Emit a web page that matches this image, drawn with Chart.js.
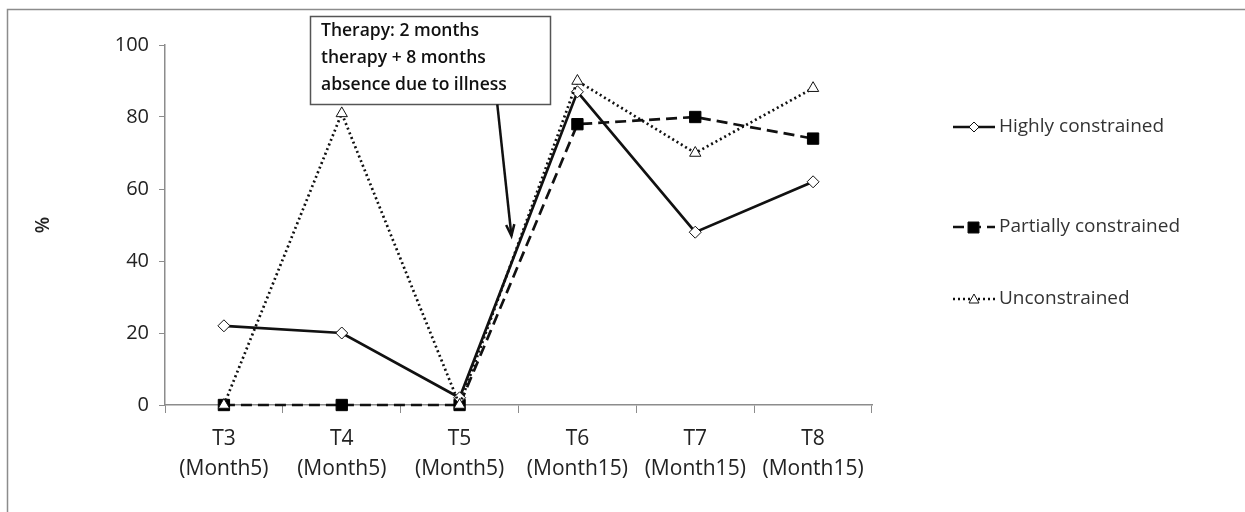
<!DOCTYPE html>
<html>
<head>
<meta charset="utf-8">
<script src="https://cdn.jsdelivr.net/npm/chart.js@4"></script>
<style>
  body { margin: 0; background: #fff; }
  #wrap { width: 1245px; height: 512px; }
</style>
</head>
<body>
<div id="wrap"><canvas id="myChart" width="1245" height="512"></canvas></div>
<script>
const categories = [
    ['T3', '(Month5)'], ['T4', '(Month5)'], ['T5', '(Month5)'],
    ['T6', '(Month15)'], ['T7', '(Month15)'], ['T8', '(Month15)']
];
const highly = [22, 20, 2, 87, 48, 62];
const partially = [0, 0, 0, 78, 80, 74];
const unconstrained = [0, 81, 0, 90, 70, 88];
const yTicks = [0, 20, 40, 60, 80, 100];
const noteLines = ['Therapy: 2 months', 'therapy + 8 months', 'absence due to illness'];

const FONT = 'Open Sans';
const GREY = '#8c8c8c';

// frame, note box with arrow and the right hand legend
const extras = {
    id: 'extras',
    afterDraw(chart) {
        const c = chart.ctx;
        const x = chart.scales.x, y = chart.scales.y;
        c.save();

        // outer frame (only top and left visible in the crop)
        c.strokeStyle = GREY;
        c.lineWidth = 1.5;
        c.beginPath();
        c.moveTo(1245, 9.5);
        c.lineTo(7.5, 9.5);
        c.lineTo(7.5, 512);
        c.stroke();

        // note box
        c.fillStyle = '#fff';
        c.fillRect(310, 16, 240, 88);
        c.strokeStyle = '#555';
        c.lineWidth = 1.5;
        c.strokeRect(310.5, 16.5, 240, 88);
        c.fillStyle = '#111';
        c.font = '600 17.5px ' + FONT;
        c.textBaseline = 'middle';
        c.textAlign = 'left';
        noteLines.forEach((t, i) => c.fillText(t, 321, 31 + i * 27));

        // arrow pointing at the gap between T5 and T6
        const x0 = x.getPixelForValue(2.32), y0 = y.getPixelForValue(83.5);
        const x1 = x.getPixelForValue(2.44), y1 = y.getPixelForValue(47);
        const ang = Math.atan2(y1 - y0, x1 - x0);
        c.strokeStyle = '#111';
        c.lineWidth = 2.5;
        c.beginPath();
        c.moveTo(x0, y0);
        c.lineTo(x1, y1);
        c.stroke();
        c.beginPath();
        c.moveTo(x1 - 12 * Math.cos(ang - 0.35), y1 - 12 * Math.sin(ang - 0.35));
        c.lineTo(x1, y1);
        c.lineTo(x1 - 12 * Math.cos(ang + 0.35), y1 - 12 * Math.sin(ang + 0.35));
        c.stroke();

        // legend
        const rows = [127, 227, 299];
        chart.data.datasets.forEach((ds, i) => {
            const ly = rows[i];
            c.strokeStyle = '#111';
            c.lineWidth = 2.5;
            c.setLineDash(ds.borderDash || []);
            c.beginPath();
            c.moveTo(953, ly);
            c.lineTo(995, ly);
            c.stroke();
            c.setLineDash([]);
            c.lineWidth = 1;
            c.fillStyle = ds.pointBackgroundColor;
            c.strokeStyle = '#111';
            c.beginPath();
            if (ds.pointStyle === 'rectRot') {
                c.moveTo(974, ly - 5); c.lineTo(979, ly); c.lineTo(974, ly + 5); c.lineTo(969, ly);
            } else if (ds.pointStyle === 'rect') {
                c.rect(968, ly - 5, 11, 11);
            } else {
                c.moveTo(974, ly - 5); c.lineTo(979, ly + 4); c.lineTo(969, ly + 4);
            }
            c.closePath();
            c.fill();
            c.stroke();
            c.fillStyle = '#333';
            c.font = '19px ' + FONT;
            c.textBaseline = 'middle';
            c.fillText(ds.label, 999, ly);
        });
        c.restore();
    }
};

const ctx = document.getElementById('myChart').getContext('2d');
const myChart = new Chart(ctx, {
    type: 'line',
    data: {
        labels: categories,
        datasets: [{
            label: 'Highly constrained',
            data: highly,
            order: 2,
            borderColor: '#111',
            borderWidth: 2.7,
            clip: false,
            pointStyle: 'rectRot',
            pointRadius: 6,
            pointBorderWidth: 1,
            pointBackgroundColor: '#fff',
            pointBorderColor: '#111'
        }, {
            label: 'Partially constrained',
            data: partially,
            order: 3,
            borderColor: '#111',
            borderWidth: 2.7,
            borderDash: [11, 6],
            clip: false,
            pointStyle: 'rect',
            pointRadius: 8,
            pointBorderWidth: 1,
            pointBackgroundColor: '#000',
            pointBorderColor: '#000'
        }, {
            label: 'Unconstrained',
            data: unconstrained,
            order: 1,
            borderColor: '#111',
            borderWidth: 2.7,
            borderDash: [2, 3],
            clip: false,
            pointStyle: 'triangle',
            pointRadius: 6.5,
            pointBorderWidth: 1,
            pointBackgroundColor: '#fff',
            pointBorderColor: '#111'
        }]
    },
    options: {
        responsive: false,
        animation: false,
        layout: { padding: { top: 45, right: 373, bottom: 0, left: 0 } },
        plugins: {
            legend: { display: false },
            tooltip: { enabled: false }
        },
        scales: {
            x: {
                offset: true,
                afterFit: (s) => { s.height = 107; },
                grid: {
                    offset: true,
                    drawOnChartArea: false,
                    color: GREY,
                    tickLength: 8
                },
                border: { color: GREY, width: 1.5 },
                ticks: {
                    color: '#222',
                    padding: 11,
                    maxRotation: 0,
                    font: { family: FONT, size: 21, lineHeight: 1.42 }
                }
            },
            y: {
                min: 0,
                max: 100,
                afterFit: (s) => { s.width = 165; },
                afterBuildTicks: (s) => { s.ticks = yTicks.map(v => ({ value: v })); },
                grid: {
                    drawOnChartArea: false,
                    color: GREY,
                    tickLength: 6
                },
                border: { color: GREY, width: 1.5 },
                ticks: {
                    color: '#222',
                    padding: 10,
                    font: { family: FONT, size: 20 }
                },
                title: {
                    display: true,
                    text: '%',
                    color: '#222',
                    font: { family: FONT, size: 19, weight: '600' },
                    padding: { top: 32, bottom: 0 }
                }
            }
        }
    },
    plugins: [extras]
});
</script>
</body>
</html>
